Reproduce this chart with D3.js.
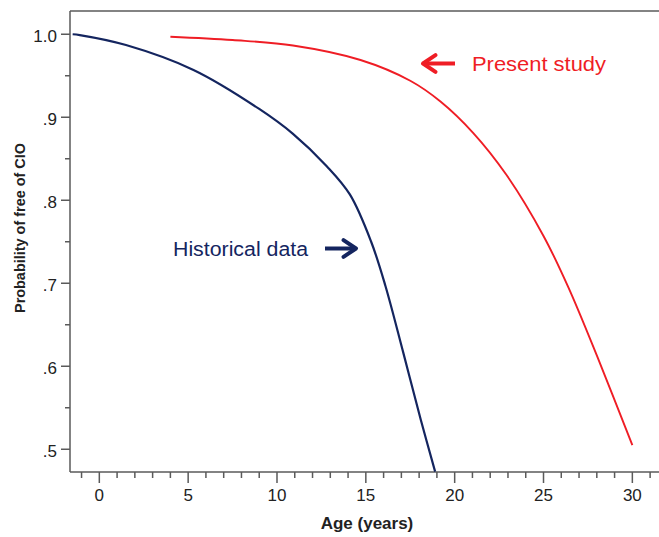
<!DOCTYPE html>
<html>
<head>
<meta charset="utf-8">
<script src="https://cdn.jsdelivr.net/npm/d3@7"></script>
<style>
  body { margin: 0; background: #fff; }
  svg { display: block; font-family: "Liberation Sans", Arial, sans-serif; }
</style>
</head>
<body>
<svg></svg>
<script>
// survival curves: [age, probability]
const historicalAge = [-1.5, -1.1, 1.5, 5.3, 9.0, 10.9, 12.8, 14.1, 15.3, 16.1, 17.1, 18.1, 18.9];
const historicalProb = [1.0, 0.999, 0.987, 0.957, 0.910, 0.880, 0.841, 0.807, 0.750, 0.697, 0.617, 0.535, 0.473];
const presentAge = [4.0, 7.5, 10.9, 14.7, 17.5, 19.2, 21.05, 22.9, 25.0, 26.4, 28.0, 30.0];
const presentProb = [0.997, 0.993, 0.9865, 0.969, 0.944, 0.919, 0.881, 0.831, 0.757, 0.695, 0.613, 0.505];
const xTicks = [0, 5, 10, 15, 20, 25, 30];
const yTicks = [0.5, 0.6, 0.7, 0.8, 0.9, 1.0];

const width = 659;
const height = 537;
const svg = d3.select('svg').attr('width', width).attr('height', height);

const plotLeft = 70, plotTop = 11, plotRight = 659, plotBottom = 472;

const x = d3.scaleLinear().domain([-1.65, 31.5]).range([plotLeft, plotRight]);
const y = d3.scaleLinear().domain([0.4726, 1.028]).range([plotBottom, plotTop]);

const axisColor = '#5a5a5a';

// frame: top line + axes
svg.append('line')
  .attr('x1', plotLeft).attr('x2', plotRight)
  .attr('y1', plotTop).attr('y2', plotTop)
  .attr('stroke', axisColor).attr('stroke-width', 1.5);

const xMinor = d3.range(-1, 32, 1).filter(d => d % 5 !== 0);
const yMinor = d3.range(0.55, 1.0, 0.1);

const xAxis = svg.append('g').attr('transform', `translate(0,${plotBottom})`);
xAxis.append('line')
  .attr('x1', plotLeft).attr('x2', plotRight)
  .attr('stroke', axisColor).attr('stroke-width', 1.5);
xAxis.selectAll('.minor').data(xMinor).enter().append('line')
  .attr('x1', d => x(d)).attr('x2', d => x(d))
  .attr('y1', 0).attr('y2', 6)
  .attr('stroke', axisColor).attr('stroke-width', 1.5);
xAxis.selectAll('.major').data(xTicks).enter().append('line')
  .attr('x1', d => x(d)).attr('x2', d => x(d))
  .attr('y1', 0).attr('y2', 11)
  .attr('stroke', axisColor).attr('stroke-width', 1.5);
xAxis.selectAll('text').data(xTicks).enter().append('text')
  .attr('x', d => x(d)).attr('y', 29)
  .attr('text-anchor', 'middle')
  .attr('font-size', 17).attr('fill', '#222')
  .text(d => d);

const yAxis = svg.append('g').attr('transform', `translate(${plotLeft},0)`);
yAxis.append('line')
  .attr('y1', plotTop).attr('y2', plotBottom)
  .attr('stroke', axisColor).attr('stroke-width', 1.5);
yAxis.selectAll('.minor').data(yMinor).enter().append('line')
  .attr('y1', d => y(d)).attr('y2', d => y(d))
  .attr('x1', 0).attr('x2', -5)
  .attr('stroke', axisColor).attr('stroke-width', 1.5);
yAxis.selectAll('.major').data(yTicks).enter().append('line')
  .attr('y1', d => y(d)).attr('y2', d => y(d))
  .attr('x1', 0).attr('x2', -9)
  .attr('stroke', axisColor).attr('stroke-width', 1.5);
yAxis.selectAll('text').data(yTicks).enter().append('text')
  .attr('x', -13).attr('y', d => y(d) + 7.5)
  .attr('text-anchor', 'end')
  .attr('font-size', 17).attr('fill', '#222')
  .text(d => d === 1 ? '1.0' : d3.format('.1f')(d).replace(/^0/, ''));

// axis titles
svg.append('text')
  .attr('x', 367).attr('y', 529)
  .attr('text-anchor', 'middle')
  .attr('font-size', 17).attr('font-weight', 'bold').attr('fill', '#222')
  .text('Age (years)');
svg.append('text')
  .attr('transform', 'translate(25,228) rotate(-90)')
  .attr('text-anchor', 'middle')
  .attr('font-size', 14).attr('font-weight', 'bold').attr('fill', '#222')
  .attr('textLength', 170).attr('lengthAdjust', 'spacingAndGlyphs')
  .text('Probability of free of CIO');

// curves
const line = d3.line().x(d => x(d[0])).y(d => y(d[1])).curve(d3.curveCatmullRom.alpha(0.5));
const navy = '#14255f';
const red = '#ef1d25';

svg.append('path')
  .datum(d3.zip(historicalAge, historicalProb))
  .attr('d', line)
  .attr('fill', 'none').attr('stroke', navy).attr('stroke-width', 2.2);
svg.append('path')
  .datum(d3.zip(presentAge, presentProb))
  .attr('d', line)
  .attr('fill', 'none').attr('stroke', red).attr('stroke-width', 1.9);

// annotations
const defs = svg.append('defs');
[['navyHead', navy], ['redHead', red]].forEach(([id, c]) => {
  defs.append('marker')
    .attr('id', id).attr('viewBox', '0 0 10 10')
    .attr('refX', 7).attr('refY', 5)
    .attr('markerWidth', 5.2).attr('markerHeight', 5.2)
    .attr('markerUnits', 'strokeWidth')
    .attr('orient', 'auto')
    .append('path')
    .attr('d', 'M1,1 L7,5 L1,9')
    .attr('fill', 'none').attr('stroke', c).attr('stroke-width', 1.9)
    .attr('stroke-linecap', 'round').attr('stroke-linejoin', 'round');
});

svg.append('line')
  .attr('x1', 455).attr('y1', 63.5).attr('x2', 423).attr('y2', 63.5)
  .attr('stroke', red).attr('stroke-width', 4)
  .attr('marker-end', 'url(#redHead)');
svg.append('text')
  .attr('x', 472).attr('y', 71)
  .attr('font-size', 21).attr('fill', red)
  .attr('textLength', 134).attr('lengthAdjust', 'spacingAndGlyphs')
  .text('Present study');

svg.append('line')
  .attr('x1', 325).attr('y1', 248.5).attr('x2', 356).attr('y2', 248.5)
  .attr('stroke', navy).attr('stroke-width', 4)
  .attr('marker-end', 'url(#navyHead)');
svg.append('text')
  .attr('x', 173).attr('y', 256)
  .attr('font-size', 20).attr('fill', navy)
  .attr('textLength', 135).attr('lengthAdjust', 'spacingAndGlyphs')
  .text('Historical data');
</script>
</body>
</html>
